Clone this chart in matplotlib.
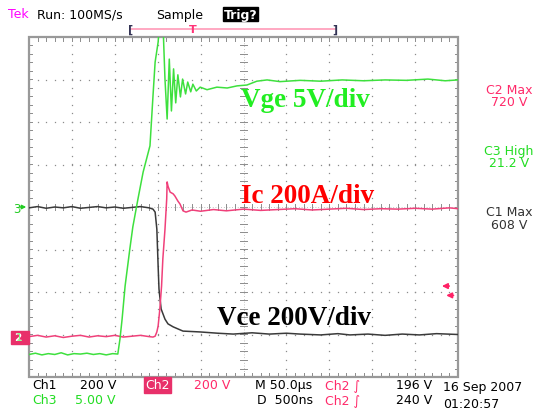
#!/usr/bin/env python3
# coding=utf-8
import numpy as np
import matplotlib
matplotlib.use('Agg')
import matplotlib.pyplot as plt
from matplotlib.patches import Rectangle

W, H = 549, 414

# traces, in screen divisions (x: 0..10, y: -4..4, 0 = centre line)
vge_t = [0.0, 0.15, 0.3, 0.45, 0.6, 0.75, 0.9, 1.05, 1.2, 1.35, 1.5, 1.65,
         1.8, 1.95, 2.07, 2.12, 2.17, 2.24, 2.35, 2.42, 2.54, 2.66, 2.82,
         2.89, 2.94, 3.01, 3.05, 3.12, 3.17, 3.22, 3.27, 3.32, 3.37, 3.42,
         3.47, 3.53, 3.58, 3.65, 3.70, 3.77, 3.82, 3.90, 3.99, 4.15, 4.38,
         4.62, 4.85, 5.08, 5.31, 5.55, 5.85, 6.32, 6.8, 7.3, 7.8, 8.3, 8.8,
         9.3, 9.7, 10.0]
vge_v = [-3.47, -3.44, -3.48, -3.45, -3.47, -3.43, -3.48, -3.45, -3.46,
         -3.44, -3.47, -3.45, -3.48, -3.45, -3.46, -3.11, -2.64, -1.86,
         -0.99, -0.47, 0.19, 0.82, 1.44, 2.61, 3.41, 3.88, 4.4, 4.4, 3.0,
         2.07, 3.48, 2.26, 3.25, 2.45, 3.11, 2.59, 3.01, 2.66, 2.94, 2.71,
         2.89, 2.73, 2.82, 2.76, 2.82, 2.80, 2.85, 2.87, 2.96, 2.99, 2.95,
         2.98, 2.96, 2.99, 2.97, 2.99, 2.98, 3.01, 2.97, 2.99]

ic_t = [0.0, 0.2, 0.4, 0.6, 0.8, 1.0, 1.2, 1.4, 1.6, 1.8, 2.0, 2.2, 2.4,
        2.6, 2.8, 2.89, 2.94, 2.98, 3.01, 3.05, 3.09, 3.12, 3.17, 3.21,
        3.22, 3.24, 3.29, 3.36, 3.40, 3.47, 3.52, 3.59, 3.66, 3.8, 4.0,
        4.3, 4.6, 5.0, 5.4, 5.8, 6.2, 6.6, 7.0, 7.4, 7.8, 8.2, 8.6, 9.0,
        9.4, 9.8, 10.0]
ic_v = [-3.05, -3.02, -3.06, -3.03, -3.07, -3.04, -3.02, -3.06, -3.03,
        -3.05, -3.02, -3.06, -3.04, -3.02, -3.05, -3.06, -3.04, -2.94,
        -2.80, -2.40, -1.86, -1.22, -0.52, 0.19, 0.59, 0.49, 0.35, 0.31,
        0.26, 0.14, 0.07, -0.09, -0.12, -0.07, -0.10, -0.06, -0.09, -0.05,
        -0.08, -0.06, -0.04, -0.07, -0.05, -0.03, -0.06, -0.04, -0.05,
        -0.03, -0.05, -0.02, -0.04]

vce_t = [0.0, 0.2, 0.4, 0.6, 0.8, 1.0, 1.2, 1.4, 1.6, 1.8, 2.0, 2.2, 2.4,
         2.6, 2.8, 2.89, 2.94, 2.98, 3.01, 3.03, 3.08, 3.17, 3.24, 3.36,
         3.59, 3.99, 4.4, 4.76, 5.2, 5.6, 6.0, 6.32, 6.8, 7.2, 7.48, 7.9,
         8.3, 8.7, 9.1, 9.5, 10.0]
vce_v = [-0.02, 0.01, -0.03, 0.0, -0.02, 0.01, -0.03, -0.01, 0.01, -0.02,
         0.0, -0.03, -0.01, 0.01, -0.02, -0.05, -0.12, -0.52, -1.39, -1.93,
         -2.40, -2.64, -2.75, -2.82, -2.92, -2.94, -2.97, -2.99, -2.96,
         -2.99, -2.97, -2.99, -3.01, -2.98, -3.01, -2.99, -3.02, -2.99,
         -3.01, -2.98, -3.0]

ch2_ground = -3.06
ch3_ground = 0.0
trig_levels = [1.2, 0.98]   # 240 V and 196 V at 200 V/div, above Ch2 ground

GREEN = '#3ee03e'
PINK = '#f0407a'
TRACE_BLACK = '#3a3a3a'
GRID = '#8c8c8c'


def fx(x):
    return x / W


def fy(y):
    return 1 - y / H


fig = plt.figure(figsize=(W / 100, H / 100), dpi=100)
fig.patch.set_facecolor('white')

left, right, top, bottom = 29, 458, 38, 378
ax = fig.add_axes([fx(left), fy(bottom), (right - left) / W, (bottom - top) / H])
ax.set_xlim(0, 10)
ax.set_ylim(-4, 4)
ax.axis('off')

# graticule: dotted lines, ticks on the centre cross and the frame
sub = np.arange(0, 10.01, 0.2)
subv = np.arange(-4, 4.01, 0.2)
for gx in range(1, 10):
    if gx == 5:
        continue
    ax.plot([gx] * len(subv), subv, ls='none', marker='s', ms=0.9,
            mew=0, color=GRID, zorder=1)
for gy in range(-3, 4):
    if gy == 0:
        continue
    ax.plot(sub, [gy] * len(sub), ls='none', marker='s', ms=0.9,
            mew=0, color=GRID, zorder=1)
ax.plot([5, 5], [-4, 4], color=GRID, lw=0.5, ls=(0, (1, 3)), zorder=1)
ax.plot([0, 10], [0, 0], color=GRID, lw=0.5, ls=(0, (1, 3)), zorder=1)
for s in sub:
    ax.plot([s, s], [-0.07, 0.07], color=GRID, lw=0.7, zorder=1)
    ax.plot([s, s], [3.9, 4.0], color=GRID, lw=0.7, zorder=1)
    ax.plot([s, s], [-4.0, -3.9], color=GRID, lw=0.7, zorder=1)
for s in subv:
    ax.plot([4.93, 5.07], [s, s], color=GRID, lw=0.7, zorder=1)
    ax.plot([0, 0.08], [s, s], color=GRID, lw=0.7, zorder=1)
    ax.plot([9.92, 10], [s, s], color=GRID, lw=0.7, zorder=1)
ax.add_patch(Rectangle((0, -4), 10, 8, fill=False, ec='#999999', lw=1.6,
                       zorder=2, clip_on=False))

# traces
ax.plot(vce_t, vce_v, color=TRACE_BLACK, lw=1.1, zorder=3)
ax.plot(ic_t, ic_v, color=PINK, lw=1.1, zorder=4)
ax.plot(vge_t, vge_v, color=GREEN, lw=1.1, zorder=5, clip_on=True)

# trigger level arrows on the right edge
for i, lv in enumerate(trig_levels):
    yy = ch2_ground + lv
    x0 = 9.78 + 0.1 * i
    ax.annotate('', xy=(x0 - 0.22, yy), xytext=(x0 + 0.08, yy),
                arrowprops=dict(arrowstyle='-|>', color='#ff2266', lw=1.2,
                                mutation_scale=8), annotation_clip=False)

# annotations on the screen
serif = 'Liberation Serif'
ax.text(4.95, 2.52, 'Vge 5V/div', color='#22ee22', fontsize=19.5,
        family=serif, weight='bold', va='center', ha='left')
ax.text(4.95, 0.27, 'Ic 200A/div', color='#ff0000', fontsize=19.5,
        family=serif, weight='bold', va='center', ha='left')
ax.text(4.38, -2.59, 'Vce 200V/div', color='black', fontsize=19.5,
        family=serif, weight='bold', va='center', ha='left')

# ground markers on the left
fig.text(fx(13), fy(210), '3', color='#22cc22', fontsize=8.5, va='center')
ax.annotate('', xy=(0, ch3_ground), xytext=(-0.27, ch3_ground),
            arrowprops=dict(arrowstyle='-|>', color='#22cc22', lw=1.0,
                            mutation_scale=6), annotation_clip=False)
fig.patches.append(Rectangle((fx(11), fy(345)), 18 / W, 13 / H,
                             transform=fig.transFigure, color='#e8306a'))
fig.text(fx(14), fy(338.5), '2', color='white', fontsize=7.5, va='center',
         weight='bold')
fig.text(fx(15.5), fy(338.5), '1', color='#88ff88', fontsize=7.5,
         va='center')
ax.annotate('', xy=(0, ch2_ground), xytext=(-0.2, ch2_ground),
            arrowprops=dict(arrowstyle='-|>', color='black', lw=1.0,
                            mutation_scale=6), annotation_clip=False)

# header
fs = 9
fig.text(fx(8), fy(15), 'Tek', color='#ff00ff', fontsize=fs, va='center')
fig.text(fx(37), fy(15), 'Run: 100MS/s', color='black', fontsize=fs,
         va='center')
fig.text(fx(156), fy(15), 'Sample', color='black', fontsize=fs, va='center')
fig.text(fx(224), fy(15), 'Trig?', color='white', fontsize=fs, va='center',
         weight='bold', bbox=dict(boxstyle='square,pad=0.05', fc='black',
                                  ec='black'))
fig.add_artist(plt.Line2D([fx(131), fx(335)], [fy(30), fy(30)],
                          color='#ff9ab8', lw=1.2))
fig.text(fx(131), fy(30), '[', color='#333355', fontsize=8, ha='center',
         va='center', weight='bold')
fig.text(fx(335), fy(30), ']', color='#333355', fontsize=8, ha='center',
         va='center', weight='bold')
fig.text(fx(193), fy(30), 'T', color='#ff3377', fontsize=8, ha='center',
         va='center', weight='bold')

# readouts on the right
for label, val, col, y in [('C2 Max', '720 V', '#ff2a6a', 90),
                           ('C3 High', '21.2 V', '#22dd22', 151),
                           ('C1 Max', '608 V', '#333333', 213)]:
    fig.text(fx(509), fy(y), label, color=col, fontsize=fs, ha='center',
             va='center')
    fig.text(fx(509), fy(y + 12.5), val, color=col, fontsize=fs,
             ha='center', va='center')

# footer
r1, r2 = 386, 401
fig.text(fx(32), fy(r1), 'Ch1', fontsize=fs, va='center')
fig.text(fx(80), fy(r1), '200 V', fontsize=fs, va='center')
fig.text(fx(145), fy(r1), 'Ch2', fontsize=fs, va='center', color='white',
         bbox=dict(boxstyle='square,pad=0.12', fc='#e8306a', ec='#e8306a'))
fig.text(fx(194), fy(r1), '200 V', fontsize=fs, va='center', color='#ff2a6a')
fig.text(fx(255), fy(r1), 'M 50.0\u00b5s', fontsize=fs, va='center')
fig.text(fx(325), fy(r1), 'Ch2 \u222b', fontsize=fs, va='center',
         color='#ff2a6a')
fig.text(fx(432), fy(r1), '196 V', fontsize=fs, va='center', ha='right')
fig.text(fx(443), fy(r1 + 2), '16 Sep 2007', fontsize=fs, va='center')
fig.text(fx(32), fy(r2), 'Ch3', fontsize=fs, va='center', color='#22dd22')
fig.text(fx(75), fy(r2), '5.00 V', fontsize=fs, va='center', color='#22dd22')
fig.text(fx(257), fy(r2), 'D  500ns', fontsize=fs, va='center')
fig.text(fx(325), fy(r2), 'Ch2 \u222b', fontsize=fs, va='center',
         color='#ff2a6a')
fig.text(fx(432), fy(r2), '240 V', fontsize=fs, va='center', ha='right')
fig.text(fx(443), fy(r2 + 4), '01:20:57', fontsize=fs, va='center')

fig.savefig('out.png', dpi=100)
